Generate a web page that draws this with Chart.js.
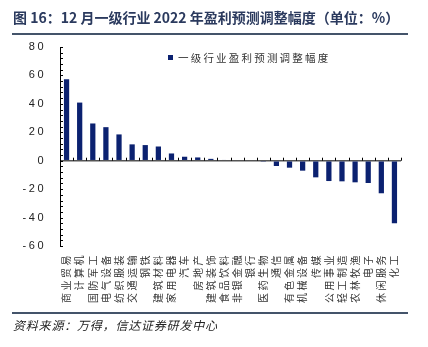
<!DOCTYPE html>
<html>
<head>
<meta charset="utf-8">
<script src="https://cdn.jsdelivr.net/npm/chart.js@4/dist/chart.umd.min.js"></script>
<style>
  html, body { margin: 0; padding: 0; background: #fff; }
  #wrap { position: relative; width: 428px; height: 347px; overflow: hidden; font-family: "Noto Sans CJK SC", sans-serif; }
  #myChart { position: absolute; left: 0; top: 0; }
  .title { position: absolute; left: 13px; top: 8px; font-size: 14px; line-height: 18px; font-weight: bold; color: #2b3a5e; white-space: nowrap; }
  .rule { position: absolute; left: 12px; width: 396px; height: 2px; background: #44546a; }
  .source { position: absolute; left: 13px; top: 317px; font-size: 12px; line-height: 16px; font-style: italic; letter-spacing: 0.8px; color: #222; white-space: nowrap; }
  .legend { position: absolute; left: 168px; top: 50px; font-size: 10.5px; line-height: 16px; letter-spacing: 2.2px; color: #333; white-space: nowrap; }
  .legend i { display: inline-block; width: 5px; height: 5px; background: #0b2170; margin-right: 5px; vertical-align: 2px; }
</style>
</head>
<body>
<div id="wrap">
  <canvas id="myChart" width="428" height="347"></canvas>
  <div class="title">图 16：12 月一级行业 2022 年盈利预测调整幅度（单位：%）</div>
  <div class="rule" style="top:33px"></div>
  <div class="legend"><i></i>一级行业盈利预测调整幅度</div>
  <div class="rule" style="top:312px"></div>
  <div class="source">资料来源：万得，信达证券研发中心</div>
</div>
<script>
// 各行业 2022 年盈利预测调整幅度 (%)
const Industrias = ['商业贸易', '计算机', '国防军工', '电气设备', '纺织服装', '交通运输', '钢铁', '建筑材料',
  '家用电器', '汽车', '房地产', '建筑装饰', '食品饮料', '非银金融', '银行', '医药生物', '通信', '有色金属',
  '机械设备', '传媒', '公用事业', '轻工制造', '农林牧渔', '电子', '休闲服务', '化工'];
const Ajuste = [57.3, 40.9, 26.2, 23.6, 18.5, 11.5, 11.0, 10.0, 5.1, 2.8, 2.3, 1.3, 0.5, 0, 0, -0.3,
  -3.7, -4.9, -7.0, -11.7, -14.3, -14.5, -15.2, -15.7, -22.9, -44.0];
const yMin = -60;
const yMax = 80;
const yLabelStep = 20;
const yMinorStep = 4;

// spaced-out glyphs like the original sheet
const spacing = {
  id: 'spacing',
  beforeUpdate(chart) { chart.ctx.letterSpacing = '2.5px'; },
  beforeDraw(chart) { chart.ctx.letterSpacing = '2.5px'; }
};

// small inward tick marks: y axis on every minor step, x axis at category edges on the zero line
const tickMarks = {
  id: 'tickMarks',
  afterDatasetsDraw(chart) {
    const { ctx, chartArea, scales: { x, y } } = chart;
    ctx.save();
    ctx.strokeStyle = '#000';
    ctx.lineWidth = 1;
    ctx.beginPath();
    y.ticks.forEach(t => {
      const py = Math.round(y.getPixelForValue(t.value)) + 0.5;
      ctx.moveTo(chartArea.left, py);
      ctx.lineTo(chartArea.left + 3, py);
    });
    const zero = y.getPixelForValue(0);
    const step = x.width / Industrias.length;
    for (let i = 0; i <= Industrias.length; i++) {
      const px = Math.round(x.left + i * step) + 0.5;
      ctx.moveTo(px, zero);
      ctx.lineTo(px, zero - 3);
    }
    ctx.stroke();
    ctx.restore();
  }
};

const data = {
  labels: Industrias,
  datasets: [{
    label: '一级行业盈利预测调整幅度',
    data: Ajuste,
    backgroundColor: '#0b2170',
    borderWidth: 0,
    barPercentage: 0.4,
    categoryPercentage: 1
  }]
};

const config = {
  type: 'bar',
  data,
  options: {
    responsive: false,
    animation: false,
    layout: { padding: { top: 47, right: 27, bottom: 0, left: 0 } },
    plugins: { legend: { display: false }, tooltip: { enabled: false } },
    scales: {
      x: {
        grid: { display: false, drawTicks: false },
        border: { display: false },
        ticks: {
          autoSkip: false,
          minRotation: 90,
          maxRotation: 90,
          padding: 7,
          color: '#333',
          font: { family: 'Noto Sans CJK SC', size: 10 }
        },
        afterFit(scale) { scale.height = 101; }
      },
      y: {
        min: yMin,
        max: yMax,
        grid: {
          drawTicks: false,
          color: ctx => ctx.tick && ctx.tick.value === 0 ? '#555' : 'transparent',
          lineWidth: 1.5
        },
        border: { display: true, color: '#000', width: 1 },
        ticks: {
          stepSize: yMinorStep,
          autoSkip: false,
          padding: 14,
          color: '#222',
          font: { family: 'Liberation Sans', size: 11 },
          callback: v => (v % yLabelStep === 0 ? v : '')
        },
        afterFit(scale) { scale.width = 60; }
      }
    }
  },
  plugins: [spacing, tickMarks]
};

const myChart = new Chart(document.getElementById('myChart'), config);
</script>
</body>
</html>
